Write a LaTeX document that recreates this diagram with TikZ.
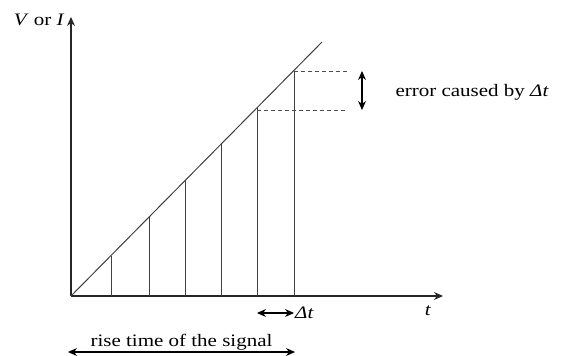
\documentclass[tikz,border=0pt]{standalone}
\usepackage{fontspec}
\setmainfont{Liberation Serif}
\usetikzlibrary{arrows.meta,positioning}
\tikzset{>={Stealth[length=9pt,width=8pt]}}
\tikzset{font=\fontsize{17.5}{21}\selectfont}
\newcommand{\widetext}[1]{\scalebox{1.2}[1]{#1}}
\tikzset{axisline/.style={line width=1.1pt, black!85, ->},
  sampleline/.style={line width=1pt, black!75},
  guideline/.style={line width=0.7pt, black!70, dashed, dash pattern=on 4pt off 3pt},
  dimarrow/.style={line width=1.1pt, <->}}

\begin{document}
\begin{tikzpicture}[x=1pt, y=1pt]
  \useasboundingbox (-71,-60) rectangle (492,296);
  \coordinate (O) at (0,0);%
  \coordinate (yend) at (0,279);%
  \coordinate (xend) at (372,0);%
  \coordinate (rampend) at (251,254);%
  % axes
  \draw [axisline] (O) -- (yend);%
  \draw [axisline] (O) -- (xend);%
  \node [anchor=east] (ylab) at (-3,276) {\widetext{\textit{V} or \textit{I}}};%
  \node (tlab) at (357,-15) {\widetext{\textit{t}}};%
  % ramp and samples
  \draw [sampleline] (O) -- (rampend);%
  \foreach \x in {40,78,114,150,186,223}
    \draw [sampleline] (\x,0) -- (\x,1.01*\x);%
  % error between two samples
  \coordinate (hiA) at (223,225);%
  \coordinate (hiB) at (279,225);%
  \coordinate (loA) at (186,186);%
  \coordinate (loB) at (275,186);%
  \draw [guideline] (hiA) -- (hiB);%
  \draw [guideline] (loA) -- (loB);%
  \coordinate (errtop) at (291,225);%
  \coordinate (errbot) at (291,186);%
  \draw [dimarrow] (errtop) -- (errbot);%
  \node [anchor=west] (errlab) at (321,204) {\widetext{error caused by \textit{Δt}}};%
  % sampling interval
  \coordinate (dtA) at (186,-17);%
  \coordinate (dtB) at (223,-17);%
  \draw [dimarrow] (dtA) -- (dtB);%
  \node [anchor=west, inner sep=1pt] (dtlab) at (dtB) {\widetext{\textit{Δt}}};%
  % rise time
  \coordinate (riseA) at (-3,-56);%
  \coordinate (riseB) at (224,-56);%
  \draw [dimarrow] (riseA) -- node [above, inner sep=1pt] (riselab) {\widetext{rise time of the signal}} (riseB);%
\end{tikzpicture}
\end{document}
